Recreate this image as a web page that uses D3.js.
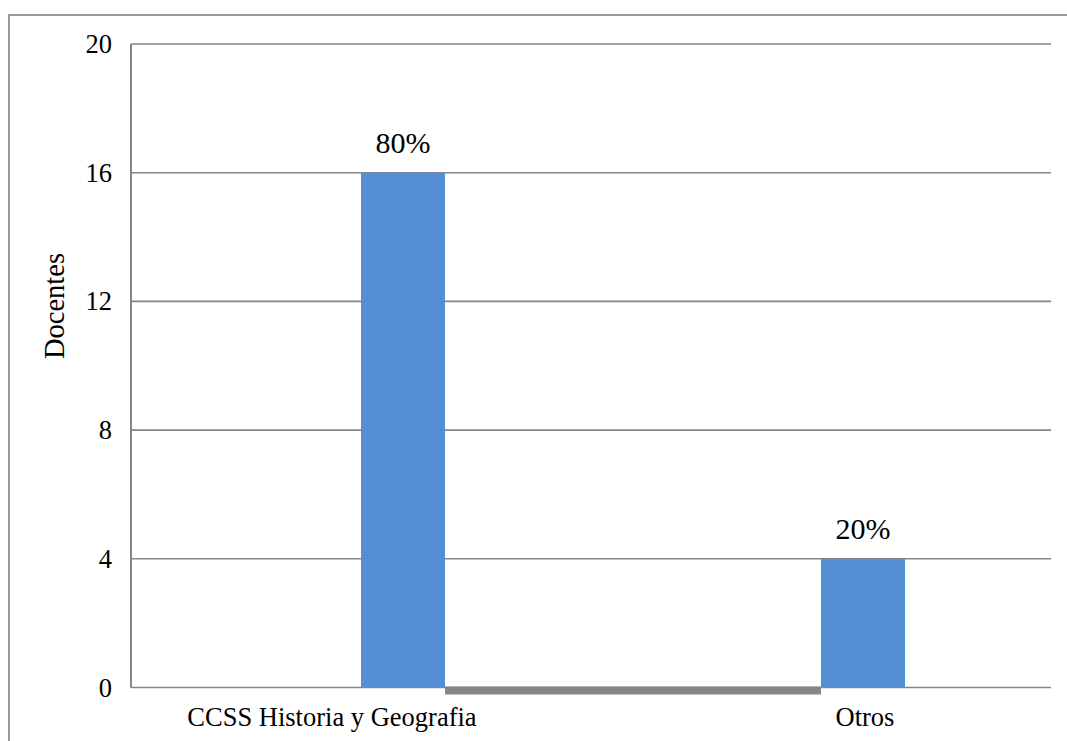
<!DOCTYPE html>
<html>
<head>
<meta charset="utf-8">
<script src="https://cdn.jsdelivr.net/npm/d3@7"></script>
<style>
  body { margin: 0; background: #fff; }
  svg { display: block; }
</style>
</head>
<body>
<script>
var width = 1067,
    height = 741;

var categories = ['CCSS Historia y Geografia', 'Otros'];
var docentes = [16, 4];
var porcentajes = ['80%', '20%'];
var lineValues = [0, 0];
var yTicks = [0, 4, 8, 12, 16, 20];

var margin = { top: 44, right: 16, bottom: 53.5, left: 131 };
var font = "'Liberation Serif', monospace";
var gridColor = '#868686';
var barColor = '#558ed5';

var svg = d3.select('body').append('svg')
  .attr('width', width)
  .attr('height', height);

// outer frame
svg.append('rect')
  .attr('x', 9).attr('y', 15)
  .attr('width', width + 10).attr('height', height)
  .attr('fill', 'none')
  .attr('stroke', '#999')
  .attr('stroke-width', 2);

var x = d3.scaleBand()
  .domain(categories)
  .range([margin.left, width - margin.right]);

var y = d3.scaleLinear()
  .domain([0, 20])
  .range([height - margin.bottom, margin.top]);

var barW = x.bandwidth() * 0.1826;
function barX(c) { return x(c) + x.bandwidth() / 2; }

// gridlines
svg.selectAll('line.grid')
  .data(yTicks)
  .enter()
  .append('line')
  .attr('class', 'grid')
  .attr('x1', margin.left)
  .attr('x2', width - margin.right)
  .attr('y1', function(d) { return y(d); })
  .attr('y2', function(d) { return y(d); })
  .attr('stroke', gridColor)
  .attr('stroke-width', 1.6);

// y axis line
svg.append('line')
  .attr('x1', margin.left).attr('x2', margin.left)
  .attr('y1', y(20)).attr('y2', y(0))
  .attr('stroke', gridColor)
  .attr('stroke-width', 2);

// tick labels
svg.selectAll('text.tick')
  .data(yTicks)
  .enter()
  .append('text')
  .attr('class', 'tick')
  .attr('x', 112)
  .attr('y', function(d) { return y(d); })
  .attr('dy', '0.34em')
  .attr('text-anchor', 'end')
  .style('font-family', font)
  .style('font-size', '26.5px')
  .text(function(d) { return d; });

// gray line series, runs between the two bars
var line = d3.line()
  .x(function(d, i) { return barX(categories[i]) + (i === 0 ? barW : 0); })
  .y(function(d) { return y(d) + 3; });

svg.append('path')
  .datum(lineValues)
  .attr('d', line)
  .attr('fill', 'none')
  .attr('stroke', gridColor)
  .attr('stroke-width', 8);

// bars
svg.selectAll('rect.bar')
  .data(docentes)
  .enter()
  .append('rect')
  .attr('class', 'bar')
  .attr('x', function(d, i) { return barX(categories[i]); })
  .attr('width', barW)
  .attr('y', function(d) { return y(d); })
  .attr('height', function(d) { return y(0) - y(d); })
  .attr('fill', barColor);

// data labels
svg.selectAll('text.value')
  .data(docentes)
  .enter()
  .append('text')
  .attr('class', 'value')
  .attr('x', function(d, i) { return barX(categories[i]) + barW / 2; })
  .attr('y', function(d) { return y(d) - 20; })
  .attr('text-anchor', 'middle')
  .style('font-family', font)
  .style('font-size', '30px')
  .text(function(d, i) { return porcentajes[i]; });

// category labels
var labelDx = [-71, 2];
svg.selectAll('text.cat')
  .data(categories)
  .enter()
  .append('text')
  .attr('class', 'cat')
  .attr('x', function(d, i) { return barX(d) + barW / 2 + labelDx[i]; })
  .attr('y', 726)
  .attr('text-anchor', 'middle')
  .style('font-family', font)
  .style('font-size', '26.5px')
  .text(function(d) { return d; });

// axis title
svg.append('text')
  .attr('transform', 'translate(64,306) rotate(-90)')
  .attr('text-anchor', 'middle')
  .style('font-family', font)
  .style('font-size', '28.5px')
  .text('Docentes');
</script>
</body>
</html>
